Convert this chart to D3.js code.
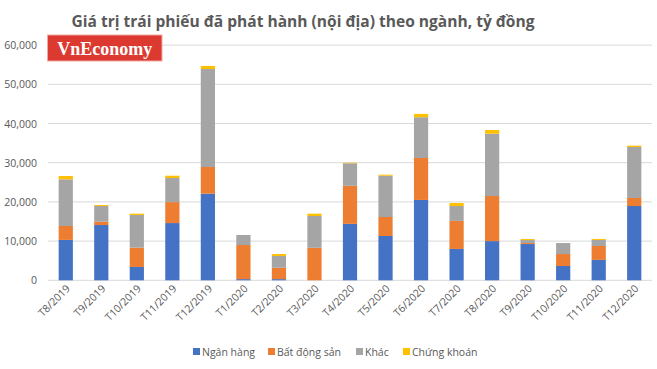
<!DOCTYPE html>
<html><head><meta charset="utf-8">
<script src="https://cdn.jsdelivr.net/npm/d3@7"></script>
<style>body{margin:0;background:#fff}svg{display:block}</style>
</head><body>
<svg id="c" width="657" height="369"></svg>
<script>
const categories = ["T8/2019","T9/2019","T10/2019","T11/2019","T12/2019","T1/2020","T2/2020","T3/2020","T4/2020","T5/2020","T6/2020","T7/2020","T8/2020","T9/2020","T10/2020","T11/2020","T12/2020"];
const nganHang   = [10300,14100,3400,14600,22100,300,300,0,14400,11300,20500,8000,10000,9250,3650,5200,18950];
const batDongSan = [3550,850,4930,5350,6800,8700,2900,8300,9700,4850,10700,7150,11500,250,3050,3550,2050];
const khac       = [11900,4000,8320,6150,25000,2560,3000,8100,5750,10530,10400,3800,15900,770,2800,1550,13000];
const chungKhoan = [850,250,350,580,770,0,500,600,150,260,850,770,940,250,0,250,350];
const seriesNames = ["Ngân hàng","Bất động sản","Khác","Chứng khoán"];
const seriesColors = ["#4472c4","#ed7d31","#a5a5a5","#ffc000"];
const yTicks = [0,10000,20000,30000,40000,50000,60000];

const rows = categories.map((c,i)=>({cat:c, s0:nganHang[i], s1:batDongSan[i], s2:khac[i], s3:chungKhoan[i]}));
const stack = d3.stack().keys(["s0","s1","s2","s3"])(rows);

const svg = d3.select("#c");
const L=48, R=652, T=45.1, B=280.3;
const x = d3.scaleBand().domain(categories).range([L,R]).paddingInner(0.6).paddingOuter(0.3);
const y = d3.scaleLinear().domain([0,60000]).range([B,T]);

// gridlines
svg.append("g").selectAll("line").data(yTicks).join("line")
  .attr("x1",L).attr("x2",R).attr("y1",d=>y(d)).attr("y2",d=>y(d))
  .attr("stroke","#d9d9d9").attr("stroke-width",1);

// y labels
svg.append("g").selectAll("text").data(yTicks).join("text")
  .attr("x",37).attr("y",d=>y(d)+4).attr("text-anchor","end")
  .attr("font-family","Open Sans, sans-serif").attr("font-size",10.5).attr("fill","#595959")
  .text(d=>d3.format(",")(d));

// bars
svg.append("g").selectAll("g").data(stack).join("g")
  .attr("fill",(d,i)=>seriesColors[i])
  .selectAll("rect").data(d=>d).join("rect")
  .attr("x",d=>x(d.data.cat)).attr("width",x.bandwidth())
  .attr("y",d=>y(d[1])).attr("height",d=>Math.max(0,y(d[0])-y(d[1])));

// x labels
svg.append("g").selectAll("text").data(categories).join("text")
  .attr("transform",d=>`translate(${x(d)+x.bandwidth()/2+5},${B+9}) rotate(-45)`)
  .attr("text-anchor","end")
  .attr("font-family","Open Sans, sans-serif").attr("font-size",10.5).attr("fill","#595959")
  .text(d=>d);

// title
svg.append("text").attr("x",303).attr("y",27).attr("text-anchor","middle")
  .attr("font-family","Open Sans, sans-serif").attr("font-weight","bold").attr("font-size",16.5)
  .attr("fill","#595959").attr("textLength",463).attr("lengthAdjust","spacingAndGlyphs")
  .text("Giá trị trái phiếu đã phát hành (nội địa) theo ngành, tỷ đồng");

// logo
svg.append("rect").attr("x",47.5).attr("y",35).attr("width",114.5).attr("height",26)
  .attr("fill","#dc3a30").attr("stroke","#f0a8a0").attr("stroke-width",1);
svg.append("text").attr("x",104.7).attr("y",54.5).attr("text-anchor","middle")
  .attr("font-family","Liberation Serif, serif").attr("font-weight","bold").attr("font-size",18)
  .attr("fill","#fff").text("VnEconomy");

// legend
const legX = [193,268,356,403];
const lg = svg.append("g").selectAll("g").data(seriesNames).join("g")
  .attr("transform",(d,i)=>`translate(${legX[i]},352)`);
lg.append("rect").attr("x",0).attr("y",-4).attr("width",7).attr("height",7).attr("fill",(d,i)=>seriesColors[i]);
lg.append("text").attr("x",9).attr("y",4).attr("font-family","Open Sans, sans-serif").attr("font-size",10.5)
  .attr("fill","#595959").text(d=>d);
</script>
</body></html>
